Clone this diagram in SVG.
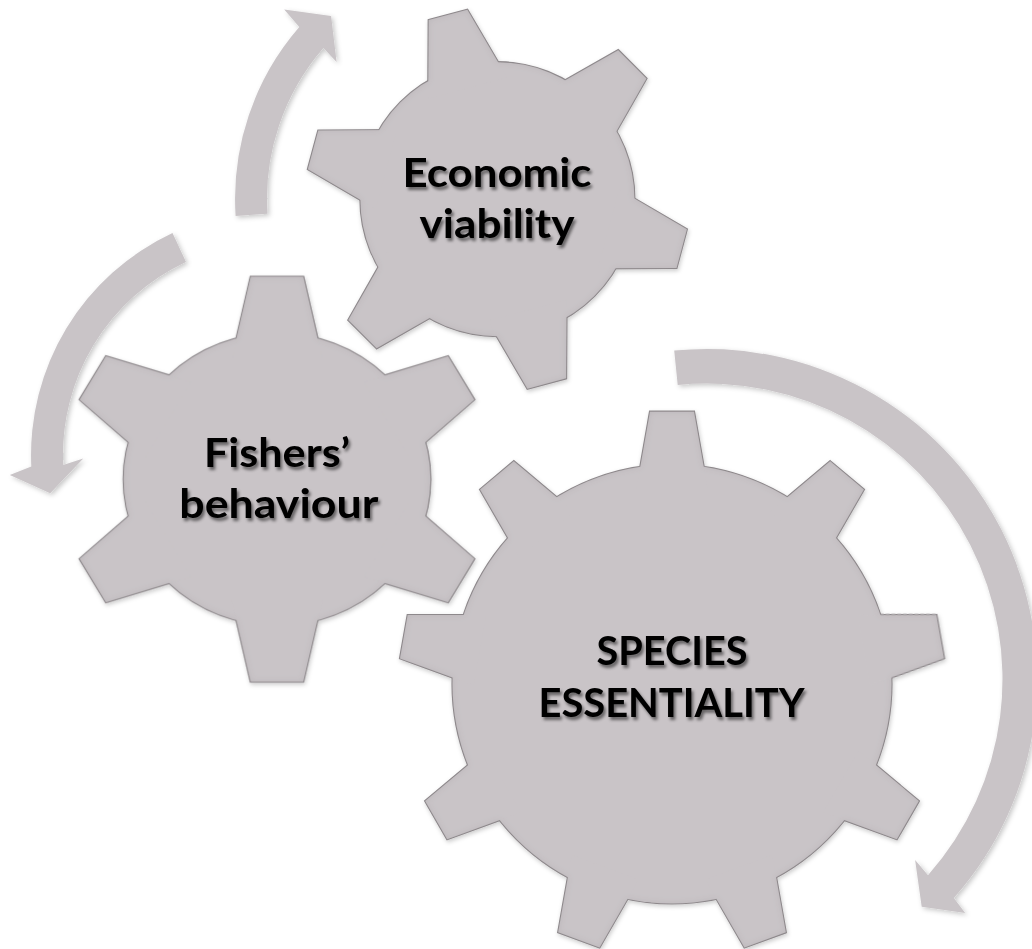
<svg xmlns="http://www.w3.org/2000/svg" xmlns:xlink="http://www.w3.org/1999/xlink" width="1032" height="949" viewBox="0 0 1032 949">
  <style>
    .gs { fill: #C9C4C7; stroke: #8E898C; stroke-width: 2.2; stroke-linejoin: miter; }
    .gf { fill: #C9C4C7; stroke: none; }
    .arrow { fill: #C9C4C7; stroke: none; filter: url(#ashadow); }
    .lbl { font-family: Lato, "Open Sans", "Liberation Sans", sans-serif; font-weight: 700; font-size: 41px; fill: #000; text-anchor: middle; filter: url(#tshadow); }
  </style>
  <defs>
    <filter id="ashadow" x="-20%" y="-20%" width="140%" height="140%">
      <feGaussianBlur in="SourceAlpha" stdDeviation="2.5"/>
      <feOffset dx="1.5" dy="2" result="o"/>
      <feFlood flood-color="#000" flood-opacity="0.22"/>
      <feComposite in2="o" operator="in"/>
      <feMerge><feMergeNode/><feMergeNode in="SourceGraphic"/></feMerge>
    </filter>
    <filter id="gshadow" x="-10%" y="-10%" width="120%" height="120%">
      <feGaussianBlur in="SourceAlpha" stdDeviation="2"/>
      <feOffset dx="1" dy="2" result="o"/>
      <feFlood flood-color="#000" flood-opacity="0.2"/>
      <feComposite in2="o" operator="in"/>
      <feMerge><feMergeNode/><feMergeNode in="SourceGraphic"/></feMerge>
    </filter>
    <filter id="inset" x="-5%" y="-5%" width="110%" height="110%">
      <feGaussianBlur in="SourceAlpha" stdDeviation="3" result="b"/>
      <feComposite in="SourceAlpha" in2="b" operator="out" result="edge"/>
      <feFlood flood-color="#5a5558" flood-opacity="0.18"/>
      <feComposite in2="edge" operator="in" result="sh"/>
      <feMerge><feMergeNode in="SourceGraphic"/><feMergeNode in="sh"/></feMerge>
    </filter>
    <filter id="tshadow" x="-10%" y="-30%" width="130%" height="170%">
      <feGaussianBlur in="SourceAlpha" stdDeviation="1.6"/>
      <feOffset dx="2" dy="2.5" result="o"/>
      <feFlood flood-color="#000" flood-opacity="0.5"/>
      <feComposite in2="o" operator="in"/>
      <feMerge><feMergeNode/><feMergeNode in="SourceGraphic"/></feMerge>
    </filter>
    <path id="toothE" d="M-20,-190.8 L20,-190.8 L40.8,-115 L-40.8,-115 Z"/>
    <path id="toothF" d="M-25,-202.5 L25,-202.5 L43.1,-120 L-43.1,-120 Z"/>
    <path id="toothS" d="M-22,-272.3 L22,-272.3 L35.6,-195 L-35.6,-195 Z"/>
    <g id="gearE">
      <circle r="137"/>
      <use xlink:href="#toothE" transform="rotate(-15)"/>
      <use xlink:href="#toothE" transform="rotate(45)"/>
      <use xlink:href="#toothE" transform="rotate(105)"/>
      <use xlink:href="#toothE" transform="rotate(165)"/>
      <use xlink:href="#toothE" transform="rotate(225)"/>
      <use xlink:href="#toothE" transform="rotate(285)"/>
    </g>
    <g id="gearF">
      <circle r="146"/>
      <use xlink:href="#toothF"/>
      <use xlink:href="#toothF" transform="rotate(60)"/>
      <use xlink:href="#toothF" transform="rotate(120)"/>
      <use xlink:href="#toothF" transform="rotate(180)"/>
      <use xlink:href="#toothF" transform="rotate(240)"/>
      <use xlink:href="#toothF" transform="rotate(300)"/>
    </g>
    <g id="gearS">
      <circle r="219.5"/>
      <use xlink:href="#toothS"/>
      <use xlink:href="#toothS" transform="rotate(40)"/>
      <use xlink:href="#toothS" transform="rotate(80)"/>
      <use xlink:href="#toothS" transform="rotate(120)"/>
      <use xlink:href="#toothS" transform="rotate(160)"/>
      <use xlink:href="#toothS" transform="rotate(200)"/>
      <use xlink:href="#toothS" transform="rotate(240)"/>
      <use xlink:href="#toothS" transform="rotate(280)"/>
      <use xlink:href="#toothS" transform="rotate(320)"/>
    </g>
  </defs>

  <rect width="1032" height="949" fill="#FFFFFF"/>

  <g id="connectors">
    <path id="arrow-top" class="arrow" d="M235.6,215.9 A262,262 0 0 1 299.3,27.1 L284.2,9.4 L331.1,16.0 L336.6,62.0 L323.4,48.1 A230,230 0 0 0 267.5,213.8 Z"/>
    <path id="arrow-left" class="arrow" d="M172.5,233.0 A245,245 0 0 0 31.3,466.5 L9.8,475.0 L50.2,493.2 L83.3,458.4 L63.2,465.0 A213,213 0 0 1 186.0,262.0 Z"/>
    <path id="arrow-right" class="arrow" d="M674.2,350.6 A330,330 0 0 1 953.8,898.1 L965.2,913.1 L921.7,906.8 L915.1,859.9 L928.0,875.2 A295.5,295.5 0 0 0 677.7,385.0 Z"/>
  </g>

  <g id="node-economic">
    <g transform="translate(497.4,199.2)" filter="url(#gshadow)">
      <use xlink:href="#gearE" class="gs"/>
      <use xlink:href="#gearE" class="gf" filter="url(#inset)"/>
    </g>
    <text class="lbl" x="497" y="186.7" textLength="189" lengthAdjust="spacingAndGlyphs">Economic</text>
    <text class="lbl" x="497" y="238.3" textLength="155" lengthAdjust="spacingAndGlyphs">viability</text>
  </g>

  <g id="node-fishers">
    <g transform="translate(277,479.2) scale(1.05,1)" filter="url(#gshadow)">
      <use xlink:href="#gearF" class="gs"/>
      <use xlink:href="#gearF" class="gf" filter="url(#inset)"/>
    </g>
    <text class="lbl" x="277" y="466.7" textLength="146" lengthAdjust="spacingAndGlyphs">Fishers’</text>
    <text class="lbl" x="278.8" y="518.3" textLength="199" lengthAdjust="spacingAndGlyphs">behaviour</text>
  </g>

  <g id="node-species">
    <g transform="translate(672,684)" filter="url(#gshadow)">
      <use xlink:href="#gearS" class="gs"/>
      <use xlink:href="#gearS" class="gf" filter="url(#inset)"/>
    </g>
    <text class="lbl" x="672" y="665" textLength="151" lengthAdjust="spacingAndGlyphs">SPECIES</text>
    <text class="lbl" x="671.5" y="717" textLength="266" lengthAdjust="spacingAndGlyphs">ESSENTIALITY</text>
  </g>
</svg>
